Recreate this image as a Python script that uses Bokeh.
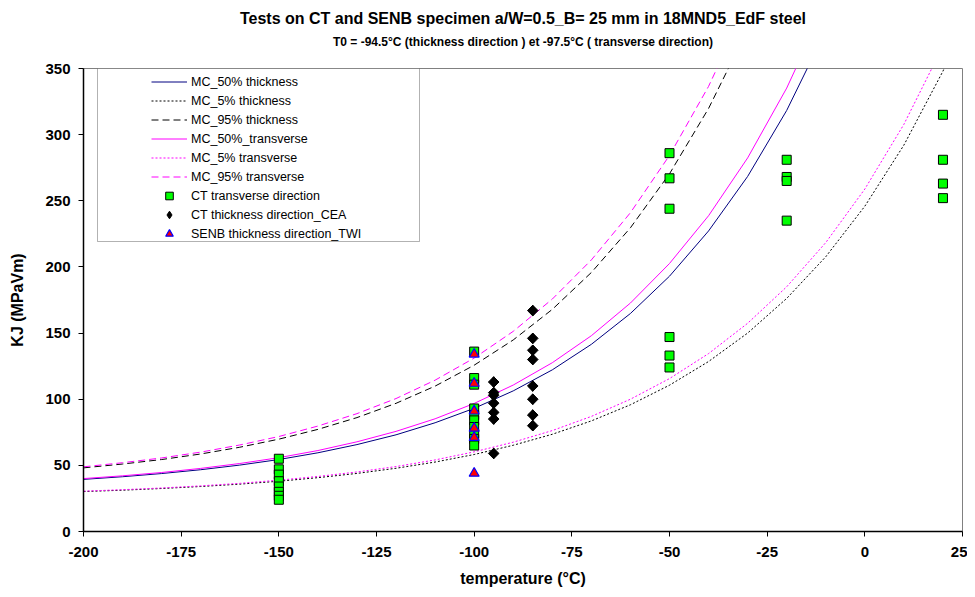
from bokeh.plotting import figure
from bokeh.models import Legend, LegendItem, BoxAnnotation, Title, FixedTicker, Range1d
from bokeh.embed import file_html
from bokeh.resources import INLINE
import math

# ---------------- data ----------------
T_curve = [-200, -190, -180, -170, -160, -150, -140, -130, -120, -110, -100,
           -90, -80, -70, -60, -50, -40, -30, -20, -10, 0, 10, 20, 30]

mc50_thick = [39.4, 41.4, 43.8, 46.7, 50.2, 54.4, 59.5, 65.7, 73.1, 82.2, 93.1,
              106.3, 122.2, 141.5, 164.8, 193.0, 227.2, 268.4, 318.3, 378.6]
mc5_thick = [30.2, 31.2, 32.5, 34.0, 35.8, 38.0, 40.7, 43.9, 47.8, 52.5, 58.2,
             65.2, 73.5, 83.6, 95.8, 110.6, 128.5, 150.0, 176.2, 207.7, 245.9, 292.1, 348.0, 415.5]
mc95_thick = [48.1, 51.0, 54.4, 58.6, 63.7, 69.8, 77.2, 86.1, 96.9, 109.9, 125.7,
              144.8, 167.9, 195.8, 229.6, 270.4, 319.8, 379.5]

mc50_trans = [40.0, 42.1, 44.6, 47.7, 51.4, 55.8, 61.2, 67.8, 75.7, 85.2, 96.8,
              110.7, 127.6, 148.0, 172.7, 202.6, 238.7, 282.4, 335.2, 399.1]
mc5_trans = [30.5, 31.6, 32.9, 34.5, 36.4, 38.8, 41.6, 45.0, 49.1, 54.1, 60.2,
             67.5, 76.3, 87.0, 100.0, 115.6, 134.5, 157.4, 185.0, 218.4, 258.9, 307.8, 366.9]
mc95_trans = [48.9, 52.0, 55.6, 60.0, 65.4, 71.8, 79.7, 89.1, 100.5, 114.4, 131.1,
              151.3, 175.7, 205.3, 241.0, 284.3, 336.5, 399.7]

ct_trans_T = [-150, -150, -150, -150, -150, -150, -150, -150,
              -100, -100, -100, -100, -100, -100, -100, -100, -100, -100,
              -50, -50, -50, -50, -50, -50,
              -20, -20, -20, -20,
              20, 20, 20, 20]
ct_trans_K = [55, 47, 43, 38, 34, 30, 27, 24,
              136, 116, 111, 93, 88, 84, 79, 74, 70, 65,
              286, 267, 244, 147, 133, 124,
              281, 268, 265, 235,
              315, 281, 263, 252]

ct_thick_T = [-95, -95, -95, -95, -95, -95, -95,
              -85, -85, -85, -85, -85, -85, -85, -85]
ct_thick_K = [113, 105, 103, 97, 90, 85, 59,
              167, 146, 137, 130, 110, 100, 88, 80]

senb_T = [-100, -100, -100, -100, -100, -100]
senb_K = [134, 112, 91, 78, 71, 44]

x_ticks = [-200, -175, -150, -125, -100, -75, -50, -25, 0, 25]
y_ticks = [0, 50, 100, 150, 200, 250, 300, 350]

# ---------------- figure ----------------
FONT = "Liberation Sans"
X0, X1, Y0, Y1 = -200, 25, 0, 350
ML, MR, MT, MB = 83, 5, 68, 58
W, H = 967, 589

p = figure(width=W, height=H, x_range=Range1d(X0, X1), y_range=Range1d(Y0, Y1),
           output_backend="svg", toolbar_location=None,
           min_border_left=ML, min_border_right=MR, min_border_top=MT, min_border_bottom=MB)

p.add_layout(Title(text="T0 = -94.5°C (thickness direction ) et -97.5°C ( transverse direction)",
                   text_font=FONT, text_font_size="12px", text_font_style="bold",
                   align="center", standoff=40, text_color="#000000"), "above")
p.add_layout(Title(text="Tests on CT and SENB specimen a/W=0.5_B= 25 mm in 18MND5_EdF steel",
                   text_font=FONT, text_font_size="16px", text_font_style="bold",
                   align="center", standoff=-29, text_color="#000000"), "above")

p.xgrid.visible = False
p.ygrid.visible = False
p.outline_line_color = "#808080"
p.outline_line_width = 1

for ax in (p.xaxis[0], p.yaxis[0]):
    ax.axis_line_color = "#000000"
    ax.axis_line_width = 1.5
    ax.major_tick_line_color = "#000000"
    ax.major_tick_out = 5
    ax.major_tick_in = 0
    ax.minor_tick_line_color = None
    ax.major_label_text_font = FONT
    ax.major_label_text_font_style = "bold"
    ax.major_label_text_font_size = "15px"
    ax.major_label_text_color = "#000000"
    ax.axis_label_text_font = FONT
    ax.axis_label_text_font_style = "bold"
    ax.axis_label_text_font_size = "16px"
    ax.axis_label_text_color = "#000000"

p.xaxis.ticker = FixedTicker(ticks=x_ticks)
p.yaxis.ticker = FixedTicker(ticks=y_ticks)
p.xaxis.major_label_overrides = {t: str(t) for t in x_ticks}
p.yaxis.major_label_overrides = {t: str(t) for t in y_ticks}
p.xaxis.axis_label = "temperature (°C)"
p.yaxis.axis_label = "KJ (MPaVm)"
p.xaxis.major_label_standoff = 10
p.xaxis.axis_label_standoff = 10
p.yaxis.major_label_standoff = 8
p.yaxis.axis_label_standoff = 16

# legend box (white rectangle with black border), positioned from frame pixels
fw, fh = float(W - ML - MR), float(H - MT - MB)
sx = (X1 - X0) / fw
sy = (Y1 - Y0) / fh
box = BoxAnnotation(left=X0 + 14 * sx, right=X0 + 336 * sx, top=Y1, bottom=Y1 - 173 * sy,
                    fill_color="white", fill_alpha=1.0, line_color="#000000", line_width=1,
                    level="underlay")
p.add_layout(box)

def seg(vals):
    return T_curve[:len(vals)], vals

r1 = p.line(*seg(mc50_thick), line_color="#000080", line_width=1)
r2 = p.line(*seg(mc5_thick), line_color="#000000", line_width=1, line_dash="2 2")
r3 = p.line(*seg(mc95_thick), line_color="#000000", line_width=1, line_dash="7 4")
r4 = p.line(*seg(mc50_trans), line_color="#FF00FF", line_width=1)
r5 = p.line(*seg(mc5_trans), line_color="#FF00FF", line_width=1, line_dash="2 2")
r6 = p.line(*seg(mc95_trans), line_color="#FF00FF", line_width=1, line_dash="7 4")

r7 = p.scatter(ct_trans_T, ct_trans_K, marker="square", size=9,
               fill_color="#00FF00", line_color="#000000", line_width=1)
# diamond glyph (used for the legend entry); covered by the turned squares below
r8_leg = p.scatter(ct_thick_T, ct_thick_K, marker="diamond", size=10.5,
                   fill_color="#000000", line_color="#000000", line_width=1)
# black diamonds drawn as squares turned by 45 degrees
r8 = p.scatter(ct_thick_T, ct_thick_K, marker="square", size=7.5, angle=math.pi / 4,
               fill_color="#000000", line_color="#000000", line_width=1)
r9 = p.scatter(senb_T, senb_K, marker="triangle", size=10,
               fill_color="#FF0000", line_color="#0000FF", line_width=1.2)

legend = Legend(items=[
    LegendItem(label="MC_50% thickness", renderers=[r1]),
    LegendItem(label="MC_5% thickness", renderers=[r2]),
    LegendItem(label="MC_95% thickness", renderers=[r3]),
    LegendItem(label="MC_50%_transverse", renderers=[r4]),
    LegendItem(label="MC_5% transverse", renderers=[r5]),
    LegendItem(label="MC_95% transverse", renderers=[r6]),
    LegendItem(label="CT transverse direction", renderers=[r7]),
    LegendItem(label="CT thickness direction_CEA", renderers=[r8_leg]),
    LegendItem(label="SENB thickness direction_TWI", renderers=[r9]),
], location=(68, 288))
legend.border_line_color = None
legend.background_fill_alpha = 0
legend.padding = 0
legend.spacing = 0
legend.margin = 0
legend.glyph_height = 19
legend.label_height = 19
legend.glyph_width = 36
legend.label_standoff = 4
legend.label_text_font = FONT
legend.label_text_font_size = "12.5px"
legend.label_text_color = "#000000"
p.add_layout(legend, "center")

open("out.html", "w").write(file_html(p, INLINE))
